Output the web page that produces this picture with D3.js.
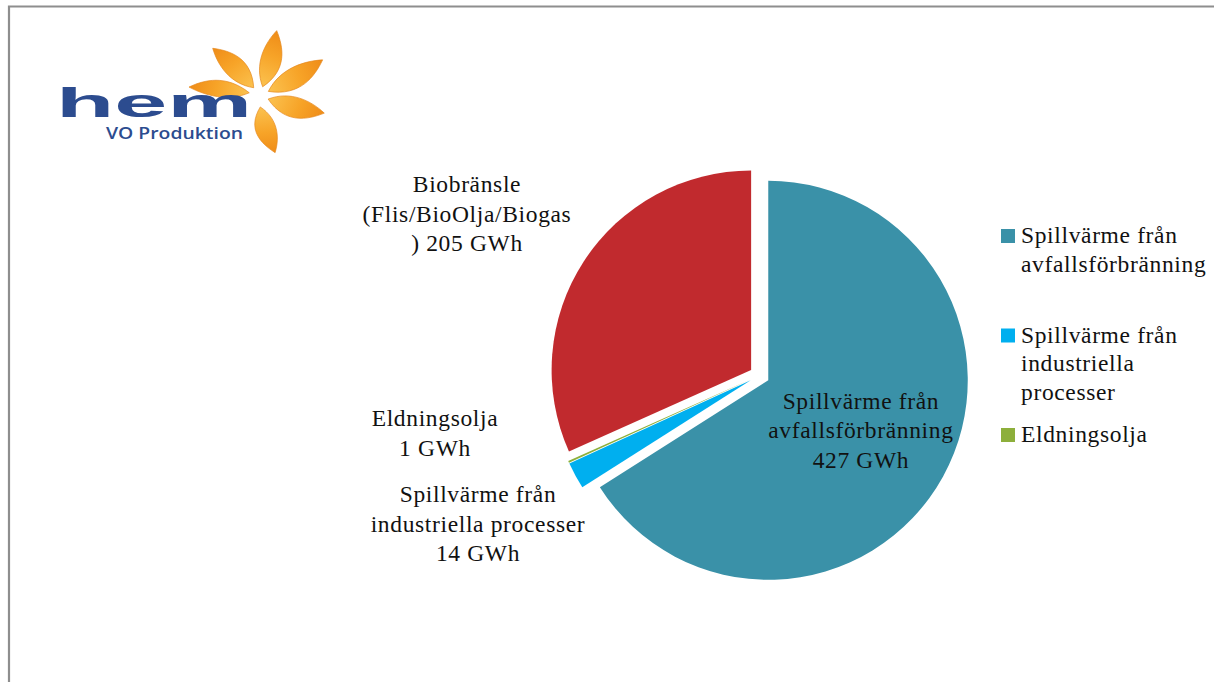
<!DOCTYPE html>
<html>
<head>
<meta charset="utf-8">
<script src="https://cdn.jsdelivr.net/npm/d3@7"></script>
<style>
  html, body { margin: 0; padding: 0; background: #fff; }
  svg { display: block; }
</style>
</head>
<body>
<svg id="chart" width="1214" height="682"></svg>
<script>
// ---------------- data ----------------
const categories = [
  "Spillvärme från avfallsförbränning",
  "Spillvärme från industriella processer",
  "Eldningsolja",
  "Biobränsle (Flis/BioOlja/Biogas)"
];
const values = [427, 14, 1, 205];
const unit = "GWh";
const colors = ["#3A91A8", "#00AFEF", "#8DAF3B", "#C12A2E"];
// how the data labels / legend texts wrap in the picture
const labelLines = [
  ["Spillvärme från", "avfallsförbränning", `${values[0]} ${unit}`],
  ["Spillvärme från", "industriella processer", `${values[1]} ${unit}`],
  ["Eldningsolja", `${values[2]} ${unit}`],
  ["Biobränsle", "(Flis/BioOlja/Biogas", `) ${values[3]} ${unit}`]
];
const legendLines = [
  ["Spillvärme från", "avfallsförbränning"],
  ["Spillvärme från", "industriella", "processer"],
  ["Eldningsolja"]
];

// ---------------- layout ----------------
const W = 1214, H = 682;
const cx = 759.5, cy = 375.5, R = 199.5, explode = 10;
const fontFamily = "'Liberation Serif', 'Times New Roman', serif";
const fontSize = 23.5, letterSpacing = 0.65, lineH = 29.5;
// label anchor (center x, first baseline y) for outside labels; null = inside at centroid
const labelAnchors = [null, [478, 502], [435, 426], [467, 192]];

const svg = d3.select("#chart");

// frame (only top and left edges visible)
svg.append("path")
  .attr("d", `M9,${H} L9,6.5 L${W},6.5`)
  .attr("fill", "none")
  .attr("stroke", "#8E8E8E")
  .attr("stroke-width", 2.2);

// ---------------- pie ----------------
const pie = d3.pie().sort(null).value(d => d).startAngle(0).endAngle(2 * Math.PI);
const arcs = pie(values);
const arc = d3.arc().innerRadius(0).outerRadius(R);

const g = svg.append("g").attr("transform", `translate(${cx},${cy})`);
function offset(d) {
  const a = (d.startAngle + d.endAngle) / 2;
  return [Math.sin(a) * explode, -Math.cos(a) * explode];
}
g.selectAll("path.slice")
  .data(arcs)
  .join("path")
  .attr("class", "slice")
  .attr("d", arc)
  .attr("fill", (d, i) => colors[i])
  .attr("transform", d => { const o = offset(d); return `translate(${o[0]},${o[1]})`; });

// ---------------- data labels ----------------
const labelArc = d3.arc().innerRadius(R * 0.53).outerRadius(R * 0.53);
arcs.forEach((d, i) => {
  let x, y0;
  const lines = labelLines[i];
  if (labelAnchors[i]) {
    x = labelAnchors[i][0];
    y0 = labelAnchors[i][1];
  } else {
    const c = labelArc.centroid(d), o = offset(d);
    x = cx + c[0] + o[0];
    const midY = cy + c[1] + o[1];
    y0 = midY - (lines.length - 1) * lineH / 2 + 7;
  }
  const t = svg.append("text")
    .attr("text-anchor", "middle")
    .attr("font-family", fontFamily)
    .attr("font-size", fontSize)
    .attr("letter-spacing", letterSpacing)
    .attr("fill", "#111");
  lines.forEach((ln, k) => {
    t.append("tspan").attr("x", x).attr("y", y0 + k * lineH).text(ln);
  });
});

// ---------------- legend ----------------
const legendX = 1001, legendY0 = 243, legendSlot = 99.5, sw = 14;
const lg = svg.append("g");
legendLines.forEach((lines, i) => {
  const by = legendY0 + i * legendSlot;
  lg.append("rect")
    .attr("x", legendX).attr("y", by - sw).attr("width", sw).attr("height", sw)
    .attr("fill", colors[i]);
  const t = lg.append("text")
    .attr("font-family", fontFamily)
    .attr("font-size", fontSize)
    .attr("letter-spacing", letterSpacing)
    .attr("fill", "#111");
  lines.forEach((ln, k) => {
    t.append("tspan").attr("x", legendX + 20).attr("y", by + k * 28.5).text(ln);
  });
});

// ---------------- logo ----------------
const defs = svg.append("defs");
const grad = defs.append("linearGradient").attr("id", "petal")
  .attr("x1", "0").attr("y1", "0").attr("x2", "1").attr("y2", "0");
grad.append("stop").attr("offset", "0").attr("stop-color", "#FBC250");
grad.append("stop").attr("offset", "0.55").attr("stop-color", "#F7A428");
grad.append("stop").attr("offset", "1").attr("stop-color", "#EF8C18");

const logo = svg.append("g");
const fc = [259, 95];
// petals: [angle deg, inner radius, length, half width]
const petals = [
  [-167, 10, 60, 8],
  [-126, 9, 56, 10],
  [-66, 9, 57, 10],
  [-21, 10, 62, 10],
  [24, 10, 57, 10],
  [84, 12, 47, 10]
];
petals.forEach(p => {
  const [ang, r0, len, hw] = p;
  const path = `M0,0 C${len * 0.3},${-hw * 1.7} ${len * 0.7},${-hw * 1.6} ${len},${-hw * 1.0}
                C${len * 0.78},${hw * 0.3} ${len * 0.45},${hw * 1.6} 0,0 Z`;
  logo.append("path")
    .attr("d", path)
    .attr("fill", "url(#petal)")
    .attr("stroke", "#E48416")
    .attr("stroke-width", 0.6)
    .attr("transform", `translate(${fc[0] + r0 * Math.cos(ang * Math.PI / 180)},${fc[1] + r0 * Math.sin(ang * Math.PI / 180)}) rotate(${ang})`);
});
logo.append("text")
  .attr("x", 56).attr("y", 117)
  .attr("font-family", "'Liberation Sans', Arial, sans-serif")
  .attr("font-weight", "bold")
  .attr("font-size", 40)
  .attr("textLength", 196)
  .attr("lengthAdjust", "spacingAndGlyphs")
  .attr("fill", "#2C4C8F")
  .text("hem");
logo.append("text")
  .attr("x", 106).attr("y", 139)
  .attr("font-family", "'Open Sans', 'Liberation Sans', sans-serif")
  .attr("font-weight", 600)
  .attr("font-size", 17)
  .attr("textLength", 137)
  .attr("lengthAdjust", "spacingAndGlyphs")
  .attr("fill", "#2C4C8F")
  .text("VO Produktion");
</script>
</body>
</html>
